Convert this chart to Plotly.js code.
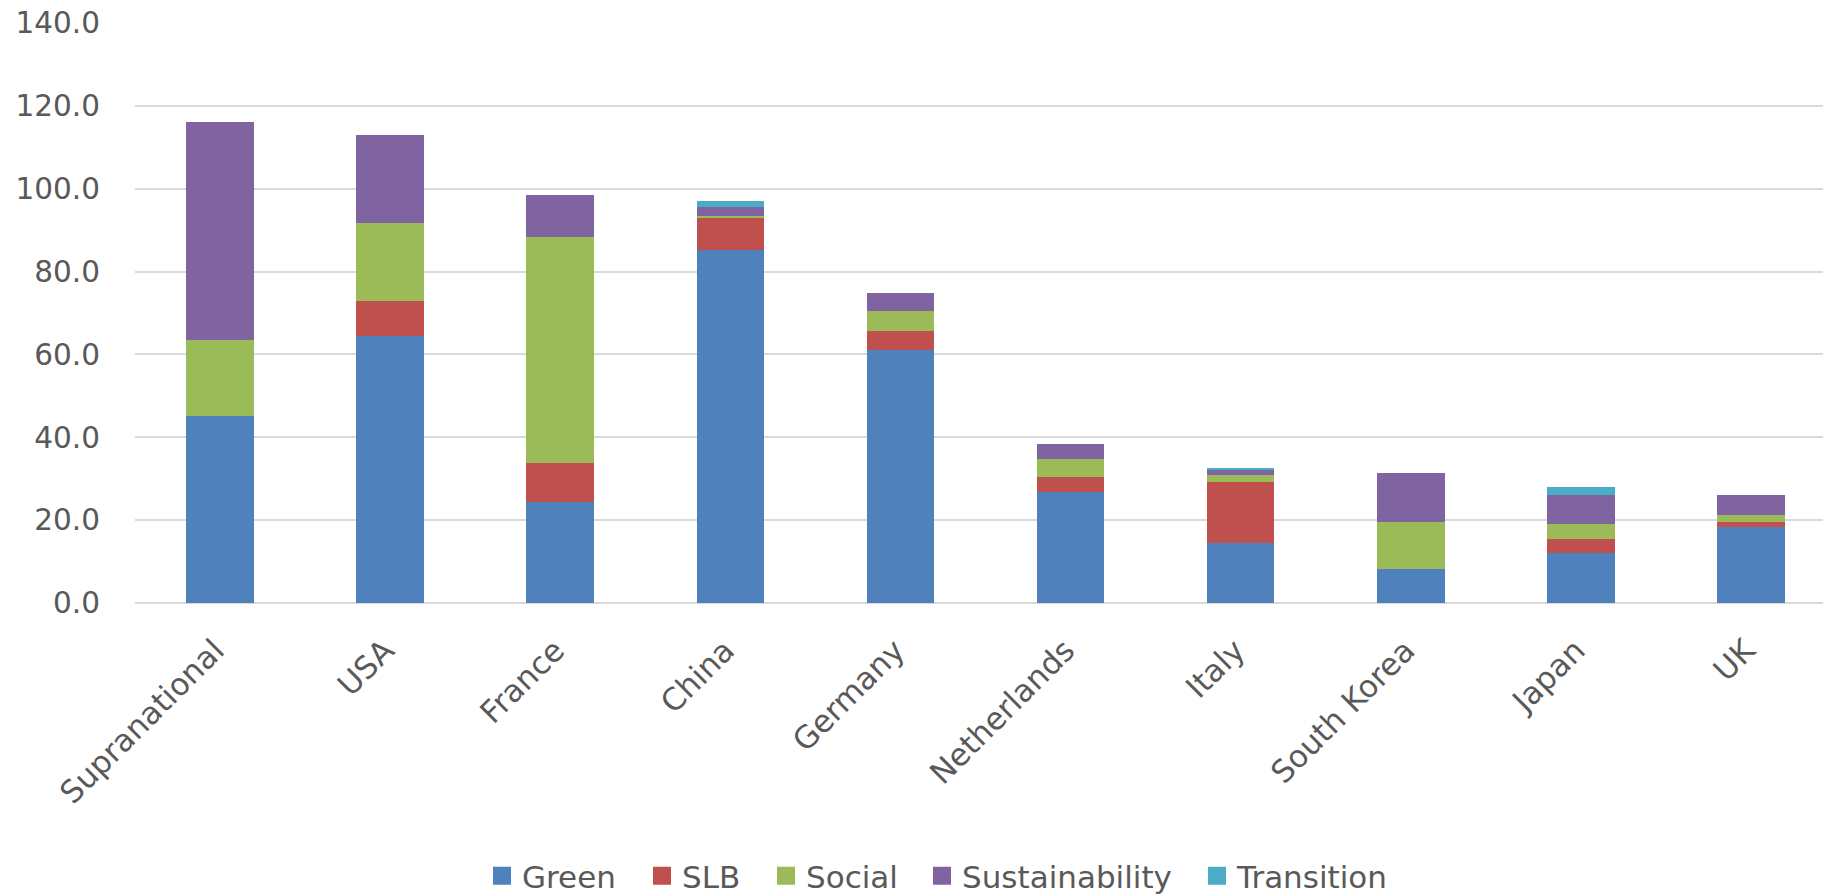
<!DOCTYPE html>
<html>
<head>
<meta charset="utf-8">
<script src="https://cdn.plot.ly/plotly-3.0.1.min.js"></script>
<style>
  html, body { margin: 0; padding: 0; background: #ffffff; }
  #chart { width: 1823px; height: 895px; }
</style>
</head>
<body>
<div id="chart"></div>
<script>
const categories = ["Supranational", "USA", "France", "China", "Germany", "Netherlands", "Italy", "South Korea", "Japan", "UK"];
const green          = [45.1, 64.5, 24.5, 85.1, 61.0, 26.9, 14.6, 8.1, 12.1, 18.4];
const slb            = [0.0,  8.5,  9.2,  7.9,  4.7,  3.6,  14.6, 0.0, 3.3,  1.2];
const social         = [18.4, 18.8, 54.6, 0.5,  4.8,  4.3,  1.8,  11.4, 3.6, 1.7];
const sustainability = [52.6, 21.2, 10.2, 2.2,  4.3,  3.6,  1.0,  12.0, 7.0, 4.7];
const transition     = [0.0,  0.0,  0.0,  1.3,  0.0,  0.0,  0.6,  0.0, 1.9,  0.0];
const yTickVals = [0, 20, 40, 60, 80, 100, 120, 140];
const yTickText = ["0.0", "20.0", "40.0", "60.0", "80.0", "100.0", "120.0", "140.0"];

const seriesNames  = ["Green", "SLB", "Social", "Sustainability", "Transition"];
const seriesValues = [green, slb, social, sustainability, transition];
const seriesColors = ["#4F81BD", "#C0504D", "#9BBB59", "#8064A2", "#4BACC6"];

const FONT = "'DejaVu Sans', 'Open Sans', sans-serif";
const TXT = "#595959";

// stacked bars (data marks)
const barTraces = seriesNames.map((name, i) => ({
  type: "bar",
  name: name,
  x: categories,
  y: seriesValues[i],
  marker: { color: seriesColors[i], line: { width: 0 } },
  showlegend: false,
  legendgroup: name,
  hoverinfo: "x+y+name"
}));

// legend-only proxies (no data points) so the legend squares can be larger
const legendIds = ["legend", "legend2", "legend3", "legend4", "legend5"];
const legendTraces = seriesNames.map((name, i) => ({
  type: "scatter",
  mode: "markers",
  name: name,
  x: [null],
  y: [null],
  legend: legendIds[i],
  legendgroup: name,
  showlegend: true,
  hoverinfo: "skip",
  marker: { symbol: "square", size: 16, color: seriesColors[i], line: { color: seriesColors[i], width: 2 } }
}));

// legend symbol centres (px) across the page
const legendCenters = [502, 662, 786, 942, 1217];
const W = 1823, H = 895;

function legendBox(i) {
  return {
    orientation: "h",
    xref: "container",
    yref: "container",
    x: (legendCenters[i] - 20) / W,
    xanchor: "left",
    y: 1 - 876 / H,
    yanchor: "middle",
    bgcolor: "rgba(0,0,0,0)",
    borderwidth: 0,
    itemsizing: "trace",
    font: { family: FONT, color: TXT, size: 31 },
    itemclick: false,
    itemdoubleclick: false
  };
}

const plotLeft = 135, plotRight = W, catSpacing = 170.1;
const layout = {
  width: W,
  height: H,
  paper_bgcolor: "#ffffff",
  plot_bgcolor: "#ffffff",
  margin: { l: plotLeft, r: 0, t: 23, b: 292, pad: 0 },
  barmode: "stack",
  bargap: 0.603,
  font: { family: FONT, color: TXT, size: 30 },
  showlegend: true,
  xaxis: {
    type: "category",
    range: [-0.5, -0.5 + (plotRight - plotLeft) / catSpacing],
    tickangle: -45,
    showgrid: false,
    showline: false,
    zeroline: false,
    ticks: "",
    ticklabelstandoff: 22,
    ticklabelshift: -5,
    tickfont: { family: FONT, color: TXT, size: 31 },
    fixedrange: true
  },
  yaxis: {
    range: [0, 140],
    tickvals: yTickVals,
    ticktext: yTickText,
    showgrid: true,
    gridcolor: "#D9D9D9",
    gridwidth: 1.5,
    zeroline: true,
    zerolinecolor: "#D9D9D9",
    zerolinewidth: 1.5,
    showline: false,
    ticks: "",
    ticklabelstandoff: 34,
    tickfont: { family: FONT, color: TXT, size: 29.5 },
    fixedrange: true
  }
};
legendIds.forEach((id, i) => { layout[id] = legendBox(i); });

Plotly.newPlot("chart", barTraces.concat(legendTraces), layout, { displayModeBar: false });
</script>
</body>
</html>
